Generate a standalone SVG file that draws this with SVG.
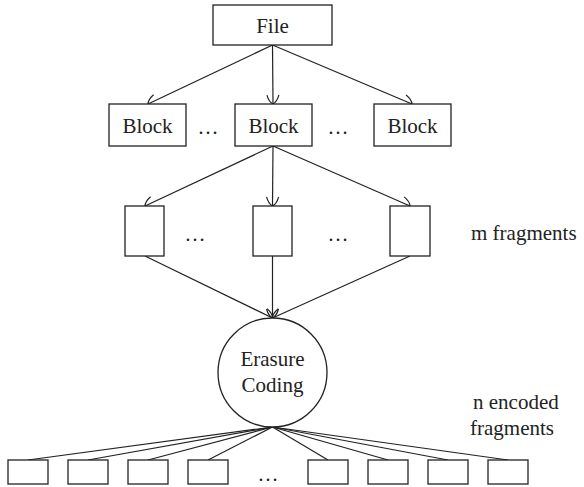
<svg xmlns="http://www.w3.org/2000/svg" width="584" height="487" viewBox="0 0 584 487">
  <style>
    .box { fill: #fff; stroke: #222; stroke-width: 1.3; }
    .edge { fill: none; stroke: #222; stroke-width: 1.2; }
    .lbl { font-family: "Liberation Serif", "Times New Roman", serif; font-size: 21px; fill: #222; }
    .mid { text-anchor: middle; }
  </style>
  <defs>
    <marker id="arr" viewBox="-12 -7 14 14" markerWidth="14" markerHeight="14" refX="0" refY="0" orient="auto" markerUnits="userSpaceOnUse">
      <path d="M -9 -6 Q -2 -4 0 0 Q -2 4 -9 6" fill="none" stroke="#222" stroke-width="1.2"/>
    </marker>
  </defs>
  <rect width="584" height="487" fill="#fff"/>

  <!-- connectors -->
  <g id="edges" class="edges">
    <line class="edge" x1="272.5" y1="45" x2="148" y2="104" marker-end="url(#arr)"/>
    <line class="edge" x1="272.5" y1="45" x2="273" y2="104" marker-end="url(#arr)"/>
    <line class="edge" x1="272.5" y1="45" x2="412" y2="104" marker-end="url(#arr)"/>

    <line class="edge" x1="273" y1="146" x2="145" y2="206" marker-end="url(#arr)"/>
    <line class="edge" x1="273" y1="146" x2="272.5" y2="206" marker-end="url(#arr)"/>
    <line class="edge" x1="273" y1="146" x2="410" y2="206" marker-end="url(#arr)"/>

    <line class="edge" x1="145" y1="256" x2="272.5" y2="318" marker-end="url(#arr)"/>
    <line class="edge" x1="272.5" y1="256" x2="272.5" y2="318" marker-end="url(#arr)"/>
    <line class="edge" x1="410" y1="256" x2="272.5" y2="318" marker-end="url(#arr)"/>

    <line class="edge" x1="272.5" y1="427" x2="28" y2="460"/>
    <line class="edge" x1="272.5" y1="427" x2="88" y2="460"/>
    <line class="edge" x1="272.5" y1="427" x2="148" y2="460"/>
    <line class="edge" x1="272.5" y1="427" x2="208" y2="460"/>
    <line class="edge" x1="272.5" y1="427" x2="328" y2="460"/>
    <line class="edge" x1="272.5" y1="427" x2="388" y2="460"/>
    <line class="edge" x1="272.5" y1="427" x2="448" y2="460"/>
    <line class="edge" x1="272.5" y1="427" x2="508" y2="460"/>
  </g>

  <!-- file -->
  <g id="file">
    <rect class="box" x="213" y="5" width="119" height="40"/>
    <text class="lbl mid" x="272.5" y="33">File</text>
  </g>

  <!-- blocks -->
  <g id="block1">
    <rect class="box" x="109" y="104" width="77" height="42"/>
    <text class="lbl mid" x="147.5" y="133">Block</text>
  </g>
  <g id="block2">
    <rect class="box" x="235" y="104" width="77" height="42"/>
    <text class="lbl mid" x="273.5" y="133">Block</text>
  </g>
  <g id="block3">
    <rect class="box" x="374" y="104" width="77" height="42"/>
    <text class="lbl mid" x="412.5" y="133">Block</text>
  </g>
  <text class="lbl mid" x="208" y="134">…</text>
  <text class="lbl mid" x="338" y="134">…</text>

  <!-- fragments -->
  <g id="frag1"><rect class="box" x="125" y="206" width="39" height="50"/></g>
  <g id="frag2"><rect class="box" x="253" y="206" width="39" height="50"/></g>
  <g id="frag3"><rect class="box" x="390" y="206" width="40" height="50"/></g>
  <text class="lbl mid" x="195" y="241">…</text>
  <text class="lbl mid" x="338" y="241">…</text>
  <text class="lbl" x="471" y="240">m fragments</text>

  <!-- erasure coding -->
  <g id="coder">
    <circle class="box" cx="272.5" cy="372.5" r="54.5"/>
    <text class="lbl mid" x="272.5" y="366">Erasure</text>
    <text class="lbl mid" x="272.5" y="392">Coding</text>
  </g>

  <text class="lbl" x="473" y="409">n encoded</text>
  <text class="lbl" x="470" y="435">fragments</text>

  <!-- encoded fragments -->
  <g id="enc1"><rect class="box" x="8" y="460" width="40" height="24"/></g>
  <g id="enc2"><rect class="box" x="68" y="460" width="40" height="24"/></g>
  <g id="enc3"><rect class="box" x="128" y="460" width="40" height="24"/></g>
  <g id="enc4"><rect class="box" x="188" y="460" width="40" height="24"/></g>
  <g id="enc5"><rect class="box" x="308" y="460" width="40" height="24"/></g>
  <g id="enc6"><rect class="box" x="368" y="460" width="40" height="24"/></g>
  <g id="enc7"><rect class="box" x="428" y="460" width="40" height="24"/></g>
  <g id="enc8"><rect class="box" x="488" y="460" width="40" height="24"/></g>
  <text class="lbl mid" x="268" y="481">…</text>
</svg>
